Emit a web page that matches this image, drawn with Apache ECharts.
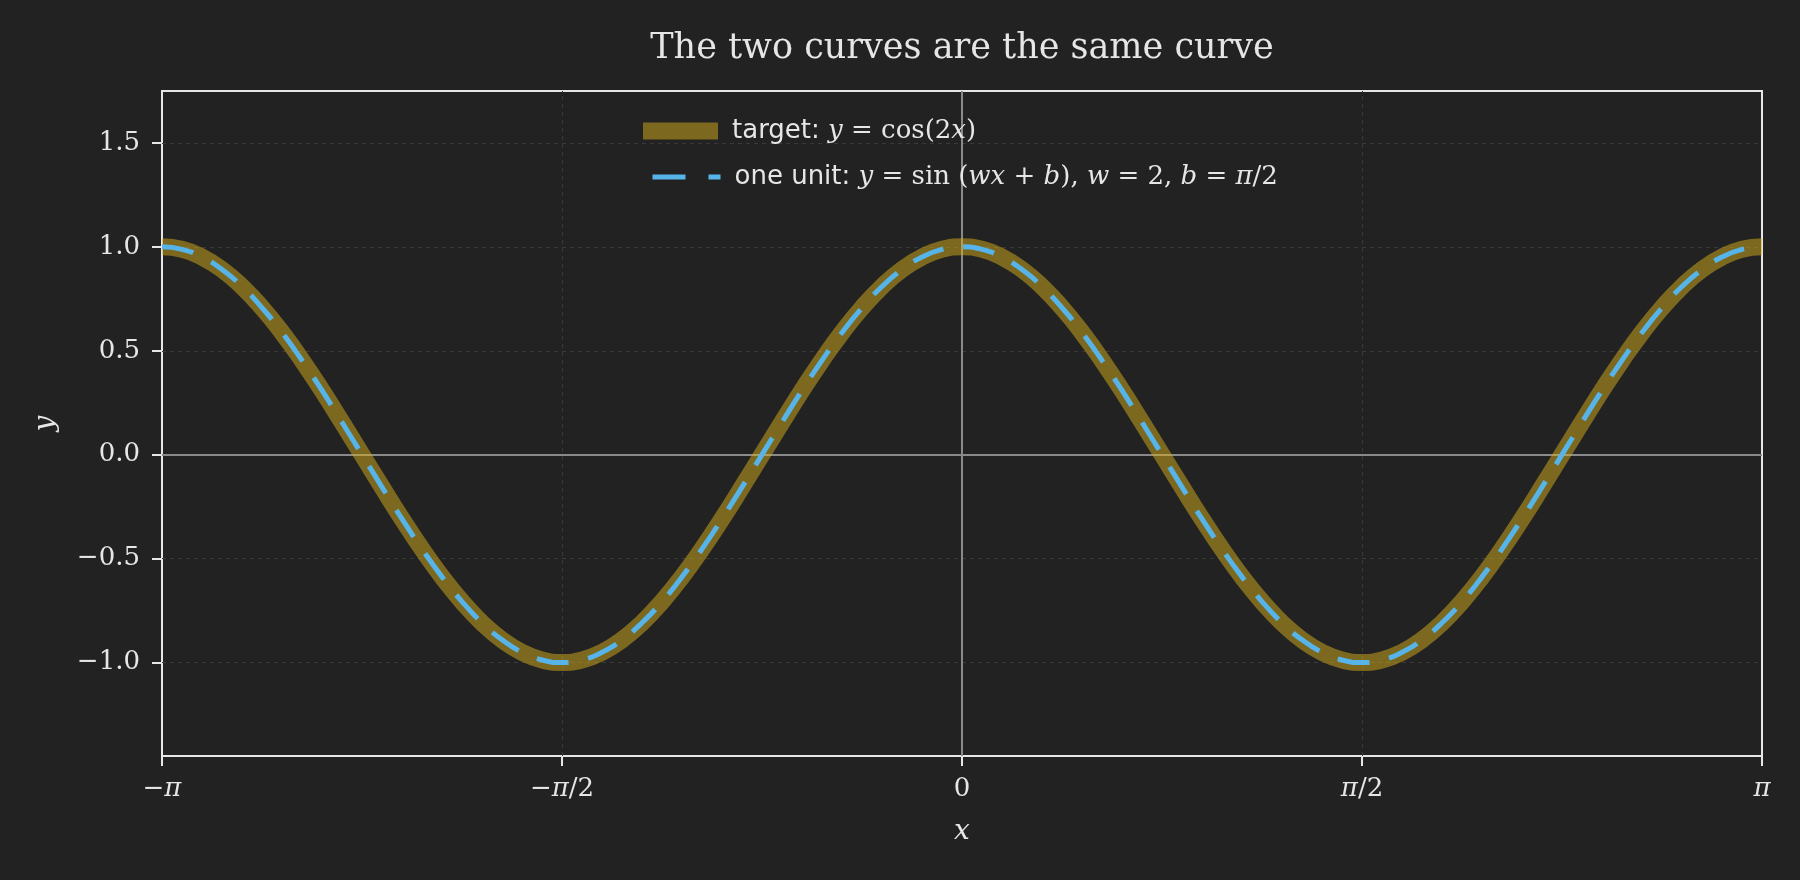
<!DOCTYPE html>
<html><head><meta charset="utf-8">
<script src="https://cdn.jsdelivr.net/npm/echarts@6/dist/echarts.min.js"></script>
<style>html,body{margin:0;padding:0;background:#222222;}#chart{width:1800px;height:880px;}</style>
</head><body><div id="chart"></div>
<script>
// x positions (radians) and curve values
const xValues = [-3.1416,-3.0631,-2.9845,-2.9060,-2.8274,-2.7489,-2.6704,-2.5918,-2.5133,-2.4347,
  -2.3562,-2.2777,-2.1991,-2.1206,-2.0420,-1.9635,-1.8850,-1.8064,-1.7279,-1.6493,
  -1.5708,-1.4923,-1.4137,-1.3352,-1.2566,-1.1781,-1.0996,-1.0210,-0.9425,-0.8639,
  -0.7854,-0.7069,-0.6283,-0.5498,-0.4712,-0.3927,-0.3142,-0.2356,-0.1571,-0.0785,
  0.0000,0.0785,0.1571,0.2356,0.3142,0.3927,0.4712,0.5498,0.6283,0.7069,
  0.7854,0.8639,0.9425,1.0210,1.0996,1.1781,1.2566,1.3352,1.4137,1.4923,
  1.5708,1.6493,1.7279,1.8064,1.8850,1.9635,2.0420,2.1206,2.1991,2.2777,
  2.3562,2.4347,2.5133,2.5918,2.6704,2.7489,2.8274,2.9060,2.9845,3.0631,3.1416];
const targetY = [1.000,0.988,0.951,0.891,0.809,0.707,0.588,0.454,0.309,0.156,
  0.000,-0.156,-0.309,-0.454,-0.588,-0.707,-0.809,-0.891,-0.951,-0.988,
  -1.000,-0.988,-0.951,-0.891,-0.809,-0.707,-0.588,-0.454,-0.309,-0.156,
  0.000,0.156,0.309,0.454,0.588,0.707,0.809,0.891,0.951,0.988,
  1.000,0.988,0.951,0.891,0.809,0.707,0.588,0.454,0.309,0.156,
  0.000,-0.156,-0.309,-0.454,-0.588,-0.707,-0.809,-0.891,-0.951,-0.988,
  -1.000,-0.988,-0.951,-0.891,-0.809,-0.707,-0.588,-0.454,-0.309,-0.156,
  0.000,0.156,0.309,0.454,0.588,0.707,0.809,0.891,0.951,0.988,1.000];
const unitY = [1.000,0.988,0.951,0.891,0.809,0.707,0.588,0.454,0.309,0.156,
  0.000,-0.156,-0.309,-0.454,-0.588,-0.707,-0.809,-0.891,-0.951,-0.988,
  -1.000,-0.988,-0.951,-0.891,-0.809,-0.707,-0.588,-0.454,-0.309,-0.156,
  0.000,0.156,0.309,0.454,0.588,0.707,0.809,0.891,0.951,0.988,
  1.000,0.988,0.951,0.891,0.809,0.707,0.588,0.454,0.309,0.156,
  0.000,-0.156,-0.309,-0.454,-0.588,-0.707,-0.809,-0.891,-0.951,-0.988,
  -1.000,-0.988,-0.951,-0.891,-0.809,-0.707,-0.588,-0.454,-0.309,-0.156,
  0.000,0.156,0.309,0.454,0.588,0.707,0.809,0.891,0.951,0.988,1.000];
const xTickLabels = ['−π','−π/2','0','π/2','π'];
const xGridValues = [-Math.PI/2, Math.PI/2];
const yTickValues = [-1.0,-0.5,0.0,0.5,1.0,1.5];
const yTickLabels = ['−1.0','−0.5','0.0','0.5','1.0','1.5'];
const titleText = 'The two curves are the same curve';

const TEXT = '#e6e6e6';
const SPINE = '#e6e6e6';
const GRIDC = '#3a3a3a';
const OLIVE = 'rgba(214,174,26,0.5)';
const BLUE = '#56b4e9';

const chart = echarts.init(document.getElementById('chart'), null, {renderer:'canvas'});
const mathRich = {
  r: {fontFamily:'DejaVu Serif', fontSize:26, color:TEXT},
  i: {fontFamily:'DejaVu Serif', fontStyle:'italic', fontSize:26, color:TEXT}
};
function mathLabel(s){
  return s.split('').map(ch => (ch==='π' ? '{i|π}' : '{r|'+ch+'}')).join('');
}
const legRich = {
  s: {fontFamily:'DejaVu Sans', fontSize:26, color:TEXT},
  r: {fontFamily:'DejaVu Serif', fontSize:26, color:TEXT},
  i: {fontFamily:'DejaVu Serif', fontStyle:'italic', fontSize:26, color:TEXT}
};
const legendTexts = {
  'target': '{s|target: }{i|y}{r| = cos(2}{i|x}{r|)}',
  'one unit': '{s|one unit: }{i|y}{r| = sin (}{i|wx}{r| + }{i|b}{r|), }{i|w}{r| = 2, }{i|b}{r| = }{i|π}{r|/2}'
};

const option = {
  backgroundColor:'#222222',
  animation:false,
  title:{
    text:titleText, left:962, textAlign:'center', top:31, padding:0,
    textStyle:{fontFamily:'DejaVu Serif', fontSize:35, fontWeight:'normal', color:TEXT}
  },
  grid:{left:162, right:38, top:91, bottom:124, show:true, borderColor:SPINE, borderWidth:2, backgroundColor:'transparent'},
  legend:[
    {data:['target'], left:643, top:118, padding:0, icon:'rect', itemWidth:75, itemHeight:17,
     formatter: n => legendTexts[n], textStyle:{padding:[0,0,0,9], rich:legRich}},
    {data:['one unit'], left:643, top:164, padding:0, itemWidth:75, itemHeight:17,
     itemStyle:{opacity:0},
     lineStyle:{width:5, type:[33,23], dashOffset:49},
     formatter: n => legendTexts[n], textStyle:{padding:[0,0,0,9], rich:legRich}}
  ],
  xAxis:{
    type:'value', min:-Math.PI, max:Math.PI, interval:Math.PI/2,
    name:'x', nameLocation:'middle', nameGap:62,
    nameTextStyle:{fontFamily:'DejaVu Serif', fontStyle:'italic', fontSize:28, color:TEXT},
    axisLine:{show:true, onZero:false, lineStyle:{color:SPINE, width:2}},
    axisTick:{show:true, length:10, lineStyle:{color:SPINE, width:2}},
    axisLabel:{margin:20, formatter: v => mathLabel(xTickLabels[Math.round(v/(Math.PI/2))+2]), rich:mathRich},
    splitLine:{show:false}
  },
  yAxis:{
    type:'value', min:-1.45, max:1.75,
    name:'y', nameLocation:'middle', nameGap:102,
    nameTextStyle:{fontFamily:'DejaVu Serif', fontStyle:'italic', fontSize:28, color:TEXT},
    axisLine:{show:true, onZero:false, lineStyle:{color:SPINE, width:2}},
    axisTick:{show:true, length:10, customValues:yTickValues, lineStyle:{color:SPINE, width:2}},
    axisLabel:{margin:22, customValues:yTickValues, fontFamily:'DejaVu Serif', fontSize:26, color:TEXT,
      formatter: v => { const k = yTickValues.findIndex(t => Math.abs(t - v) < 1e-6); return k >= 0 ? yTickLabels[k] : ''; }},
    splitLine:{show:false}
  },
  series:[
    {
      name:'grid', type:'line', data:[], silent:true, z:1,
      markLine:{silent:true, symbol:'none', z:1, label:{show:false},
        lineStyle:{color:GRIDC, width:1, type:[4,4]},
        data: yTickValues.filter(v => v !== 0).map(v => ({yAxis:v}))
          .concat(xGridValues.map(v => ({xAxis:v})))}
    },
    {
      name:'zero', type:'line', data:[], silent:true, z:1,
      markLine:{silent:true, symbol:'none', z:1, label:{show:false},
        lineStyle:{color:'#8a8a8a', width:2, type:'solid'},
        data:[{xAxis:0},{yAxis:0}]}
    },
    {
      name:'target', type:'line', z:3, smooth:true, showSymbol:false, symbol:'none', clip:true,
      color:OLIVE, itemStyle:{color:OLIVE},
      lineStyle:{color:OLIVE, width:17, cap:'butt', join:'round'},
      data: xValues.map((x,i) => [x, targetY[i]])
    },
    {
      name:'one unit', type:'line', z:4, smooth:true, showSymbol:false, symbol:'none', clip:true,
      color:BLUE, itemStyle:{color:BLUE},
      lineStyle:{color:BLUE, width:5, type:[32,20], cap:'butt', join:'round'},
      data: xValues.map((x,i) => [x, unitY[i]])
    }
  ]
};
chart.setOption(option);
</script></body></html>
